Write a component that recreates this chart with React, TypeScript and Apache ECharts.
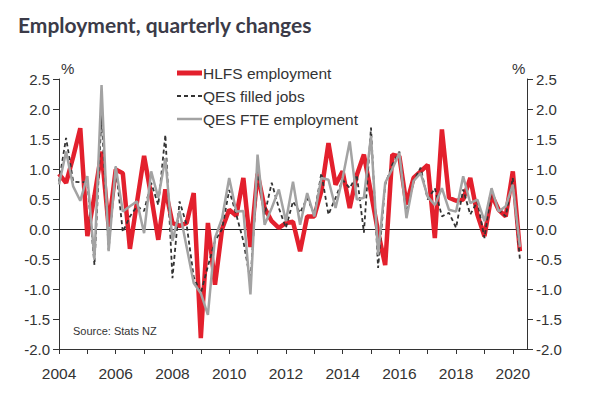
import React, { useEffect, useRef } from "react";
import * as echarts from "echarts";

// Quarterly, 2004Q1 .. 2020Q2
const startYear = 2004;
const quarters: string[] = [];
for (let y = 2004; y <= 2020; y++) {
  for (let q = 1; q <= 4; q++) {
    if (y === 2020 && q > 2) break;
    quarters.push(`${y}Q${q}`);
  }
}

const hlfsEmployment = [
  0.92, 0.77, 1.2, 1.68, -0.12, 0.55, 1.29, 0.04, 0.99, 0.93,
  -0.33, 0.45, 1.22, 0.55, -0.18, 0.66, 0.1, 0.05, 0.1, 0.6,
  -1.82, 0.1, -0.93, 0.0, 0.32, 0.22, 0.85, -0.3, 0.92, 0.35,
  0.13, 0.02, 0.1, 0.12, -0.37, 0.21, 0.21, 0.63, 1.43, 0.74,
  0.96, 0.35, 0.9, 1.24, 0.6, -0.05, -0.6, 1.24, 1.21, 0.41,
  0.85, 0.96, 1.07, -0.15, 1.66, 0.52, 0.47, 0.49, 0.85, 0.24,
  -0.12, 0.57, 0.32, 0.21, 0.96, -0.37,
];

const qesFilledJobs = [
  0.79, 1.52, 0.79, 0.78, 0.78, -0.6, 1.9, -0.35, 1.04, -0.05,
  0.21, 0.38, 0.3, 0.77, 0.4, 1.57, -0.82, 0.46, 0.07, -0.8,
  -1.07, -0.62, -0.2, 0.0, 0.65, 0.24, -0.2, -0.87, 0.96, 0.24,
  0.77, 0.35, 0.02, 0.46, 0.27, 0.52, 0.24, 0.93, 0.24, 0.52,
  0.82, 0.68, 0.9, -0.06, 1.69, -0.65, 0.74, 1.07, 1.29, 0.24,
  0.8, 1.02, 0.49, 0.68, 0.21, 0.27, 0.02, 0.66, 0.24, 0.46,
  -0.15, 0.63, 0.32, 0.21, 0.85, -0.51,
];

const qesFteEmployment = [
  0.74, 1.29, 0.71, 0.47, 0.88, -0.51, 2.4, -0.37, 1.04, 0.29,
  0.38, 0.46, -0.07, 0.96, 0.52, 1.18, -0.2, 0.3, -0.3, -0.9,
  -1.07, -1.43, -0.15, 0.18, 0.85, 0.29, 0.3, -1.09, 1.24, 0.07,
  0.35, 0.66, 0.13, 0.79, 0.07, 0.6, 0.21, 0.85, 0.82, 0.35,
  0.85, 1.46, 0.49, 0.52, 1.55, -0.43, 0.77, 1.0, 1.27, 0.18,
  0.8, 0.93, 0.54, 0.4, 0.68, 0.32, 0.29, 0.88, 0.43, 0.49,
  0.13, 0.68, 0.29, 0.38, 0.74, -0.3,
];

const seriesNames = ["HLFS employment", "QES filled jobs", "QES FTE employment"];
const yMin = -2;
const yMax = 2.5;
const yStep = 0.5;
const xMin = 2004;
const xMax = 2020.5;

const toPoints = (vals: number[]) =>
  vals.map((v, i) => [startYear + i * 0.25, v]);

const labelFont = "Liberation Sans, Arial, sans-serif";
const textColor = "#333";

const red = "#e3202d";
const dark = "#333";
const grey = "#a3a3a3";

export default function App() {
  const ref = useRef<HTMLDivElement>(null);
  useEffect(() => {
    document.body.style.margin = "0";
    const chart = echarts.init(ref.current!, null, { renderer: "svg" });
    const yAxisCommon = {
      type: "value" as const,
      min: yMin,
      max: yMax,
      interval: yStep,
      splitLine: { show: false },
      axisLine: { show: true, lineStyle: { color: "#333", width: 1 } },
      axisTick: { show: true, length: 6, lineStyle: { color: "#333" } },
      axisLabel: {
        color: textColor,
        fontSize: 15,
        fontFamily: labelFont,
        margin: 9,
        formatter: (v: number) => v.toFixed(1),
      },
    };
    const legendStyles = [
      { stroke: red, lineWidth: 5 },
      { stroke: dark, lineWidth: 1.8, lineDash: [4, 3] },
      { stroke: grey, lineWidth: 2.5 },
    ];
    const legendRowsY = [73, 96, 119];
    const legendGraphics: any[] = [];
    seriesNames.forEach((name, k) => {
      legendGraphics.push({
        type: "line",
        shape: { x1: 177, y1: legendRowsY[k], x2: 202, y2: legendRowsY[k] },
        style: { ...legendStyles[k], fill: null },
        silent: true,
      });
      legendGraphics.push({
        type: "text",
        x: 203,
        y: legendRowsY[k],
        style: {
          text: name,
          font: `15.5px ${labelFont}`,
          fill: textColor,
          verticalAlign: "middle",
        },
      });
    });
    chart.setOption({
      animation: false,
      grid: { left: 59, right: 72, top: 79, bottom: 49, containLabel: false },
      xAxis: {
        type: "value",
        min: xMin,
        max: xMax,
        interval: 1,
        splitLine: { show: false },
        axisLine: { show: true, onZero: false, lineStyle: { color: "#333", width: 1 } },
        axisTick: { show: true, length: 5, lineStyle: { color: "#333" } },
        axisLabel: {
          color: textColor,
          fontSize: 15.5,
          fontFamily: labelFont,
          margin: 16,
          showMaxLabel: false,
          formatter: (v: number) =>
            Number.isInteger(v) && v % 2 === 0 ? String(v) : "",
        },
      },
      yAxis: [
        { ...yAxisCommon, position: "left" },
        { ...yAxisCommon, position: "right" },
      ],
      series: [
        {
          name: seriesNames[0],
          type: "line",
          data: toPoints(hlfsEmployment),
          symbol: "none",
          lineStyle: { color: red, width: 4.5 },
          itemStyle: { color: red },
          z: 2,
          markLine: {
            silent: true,
            symbol: ["none", "none"],
            label: { show: false },
            lineStyle: { color: "#222", width: 1, type: "solid" },
            data: [{ yAxis: 0 }],
            z: 1,
          },
        },
        {
          name: seriesNames[1],
          type: "line",
          data: toPoints(qesFilledJobs),
          symbol: "none",
          lineStyle: { color: dark, width: 1.8, type: [4, 3] },
          itemStyle: { color: dark },
          z: 3,
        },
        {
          name: seriesNames[2],
          type: "line",
          data: toPoints(qesFteEmployment),
          symbol: "none",
          lineStyle: { color: grey, width: 2.5 },
          itemStyle: { color: grey },
          z: 4,
        },
      ],
      graphic: [
        {
          type: "text",
          x: 18,
          y: 14,
          style: {
            text: "Employment, quarterly changes",
            font: "bold 21px Lato, 'Noto Sans', sans-serif",
            fill: "#3b3b48",
          },
        },
        {
          type: "text",
          x: 61,
          y: 61,
          style: { text: "%", font: `15px ${labelFont}`, fill: textColor },
        },
        {
          type: "text",
          x: 512,
          y: 61,
          style: { text: "%", font: `15px ${labelFont}`, fill: textColor },
        },
        {
          type: "text",
          x: 73,
          y: 325,
          style: { text: "Source: Stats NZ", font: `11px ${labelFont}`, fill: textColor },
        },
        ...legendGraphics,
      ],
    });
    return () => chart.dispose();
  }, []);
  return <div ref={ref} style={{ width: 599, height: 398 }} />;
}
